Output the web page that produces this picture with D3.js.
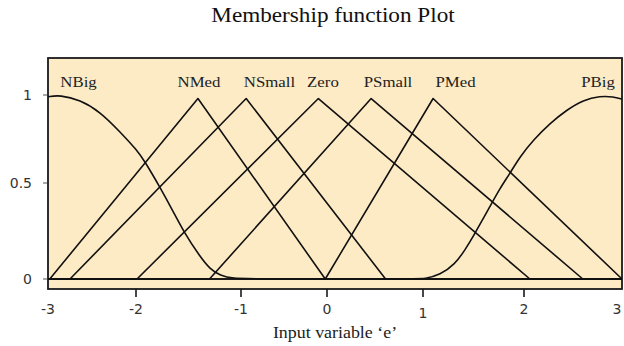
<!DOCTYPE html>
<html>
<head>
<meta charset="utf-8">
<script src="https://cdn.jsdelivr.net/npm/d3@7/dist/d3.min.js"></script>
<style>
  body { margin: 0; background: #ffffff; }
  svg { display: block; }
</style>
</head>
<body>
<svg id="chart" width="624" height="346"></svg>
<script>
// ---- data -------------------------------------------------------------
const xTicks = [-3, -2, -1, 0, 1, 2, 3];
const yTicks = [0, 0.5, 1];
const yTickLabels = ["0", "0.5", "1"];

// triangular sets: left foot, peak, right foot, peak height
const triNames = ["NMed", "NSmall", "Zero", "PSmall", "PMed"];
const triLeft  = [-2.98, -2.75, -1.99, -1.30, -0.02];
const triPeak  = [-1.41, -0.94, -0.10,  0.46,  1.10];
const triRight = [-0.02,  0.61,  2.06,  2.60,  3.00];
const triHeight = 0.98;

// left shoulder set NBig (sampled)
const nBigX = [-3.0, -2.864, -2.636, -2.409, -2.182, -1.993, -1.914, -1.771, -1.645, -1.55, -1.39, -1.295, -1.2, -1.07, -0.9, 3.0];
const nBigY = [0.99, 1.0, 0.972, 0.905, 0.791, 0.688, 0.621, 0.477, 0.351, 0.25, 0.116, 0.052, 0.018, 0.002, 0, 0];

// right shoulder set PBig (sampled)
const pBigX = [-3.0, 0.9, 1.02, 1.168, 1.317, 1.416, 1.515, 1.597, 1.68, 1.762, 1.861, 1.96, 2.095, 2.265, 2.436, 2.605, 2.776, 2.912, 3.0];
const pBigY = [0, 0, 0.001, 0.021, 0.077, 0.151, 0.238, 0.316, 0.394, 0.472, 0.555, 0.649, 0.744, 0.839, 0.915, 0.972, 0.994, 0.99, 0.977];

// set names and where each name sits along the x axis
const setNames = ["NBig", "NMed", "NSmall", "Zero", "PSmall", "PMed", "PBig"];
const labelAt  = [-2.653, -1.40, -0.669, -0.047, 0.635, 1.322, 2.755];

// ---- layout -----------------------------------------------------------
const svg = d3.select("#chart");
const frame = { left: 48, right: 622, top: 58, bottom: 289 };
const stretch = 1.12;   // wide serif lettering

// axis stops of the plotted range
const x = d3.scaleLinear()
  .domain(xTicks)
  .range([48, 136, 241, 327, 423, 524, 622]);
const y = d3.scaleLinear()
  .domain(yTicks)
  .range([279, 183, 95]);

// frame
svg.append("rect")
  .attr("x", frame.left).attr("y", frame.top)
  .attr("width", frame.right - frame.left)
  .attr("height", frame.bottom - frame.top)
  .attr("fill", "#fdebc6")
  .attr("stroke", "#1a1a1a")
  .attr("stroke-width", 1.8);

// ---- membership curves ------------------------------------------------
const line = d3.line().x(d => x(d[0])).y(d => y(d[1]));
const smooth = d3.line().x(d => x(d[0])).y(d => y(d[1])).curve(d3.curveBasis);

const curves = svg.append("g")
  .attr("fill", "none")
  .attr("stroke", "#111")
  .attr("stroke-width", 1.6)
  .attr("stroke-linejoin", "round");

triNames.forEach((name, i) => {
  const pts = [[xTicks[0], 0], [triLeft[i], 0], [triPeak[i], triHeight], [triRight[i], 0], [xTicks[xTicks.length - 1], 0]];
  curves.append("path").attr("class", "set " + name).attr("d", line(pts));
});

curves.append("path").attr("class", "set NBig")
  .attr("d", smooth(nBigX.map((v, i) => [v, nBigY[i]])));
curves.append("path").attr("class", "set PBig")
  .attr("d", smooth(pBigX.map((v, i) => [v, pBigY[i]])));

// ---- set names --------------------------------------------------------
svg.append("g")
  .selectAll("text")
  .data(setNames)
  .join("text")
  .attr("transform", (d, i) => `translate(${x(labelAt[i])},87) scale(${stretch},1)`)
  .attr("text-anchor", "middle")
  .attr("font-family", "'Liberation Serif', 'Times New Roman', serif")
  .attr("font-size", 15)
  .attr("fill", "#222")
  .text(d => d);

// ---- axes -------------------------------------------------------------
const xAxis = svg.append("g");
xAxis.selectAll("line")
  .data(xTicks.filter(t => t > xTicks[0] && t < xTicks[xTicks.length - 1]))
  .join("line")
  .attr("x1", d => x(d)).attr("x2", d => x(d))
  .attr("y1", frame.bottom).attr("y2", frame.bottom + 8)
  .attr("stroke", "#1a1a1a").attr("stroke-width", 1.6);
xAxis.selectAll("text")
  .data(xTicks)
  .join("text")
  .attr("x", d => Math.min(x(d), 617))
  .attr("y", d => d === 1 ? 318 : 314)
  .attr("text-anchor", "middle")
  .attr("font-family", "'DejaVu Sans', Verdana, sans-serif")
  .attr("font-size", 14)
  .attr("fill", "#333")
  .text(d => d);

const yAxis = svg.append("g");
yAxis.selectAll("line")
  .data(yTicks)
  .join("line")
  .attr("x1", frame.left - 5).attr("x2", frame.left - 1)
  .attr("y1", d => y(d)).attr("y2", d => y(d))
  .attr("stroke", "#555").attr("stroke-width", 1);
yAxis.selectAll("text")
  .data(yTicks)
  .join("text")
  .attr("x", 32)
  .attr("y", d => y(d))
  .attr("dy", "0.35em")
  .attr("text-anchor", "end")
  .attr("font-family", "'DejaVu Sans', Verdana, sans-serif")
  .attr("font-size", 14)
  .attr("fill", "#333")
  .text((d, i) => yTickLabels[i]);

// ---- titles -----------------------------------------------------------
svg.append("text")
  .attr("transform", `translate(333,22) scale(1.16,1)`)
  .attr("text-anchor", "middle")
  .attr("font-family", "'Liberation Serif', 'Times New Roman', serif")
  .attr("font-size", 20)
  .attr("fill", "#111")
  .text("Membership function Plot");

svg.append("text")
  .attr("transform", `translate(335,338) scale(${stretch},1)`)
  .attr("text-anchor", "middle")
  .attr("font-family", "'Liberation Serif', 'Times New Roman', serif")
  .attr("font-size", 16)
  .attr("fill", "#222")
  .text("Input variable \u2018e\u2019");
</script>
</body>
</html>
